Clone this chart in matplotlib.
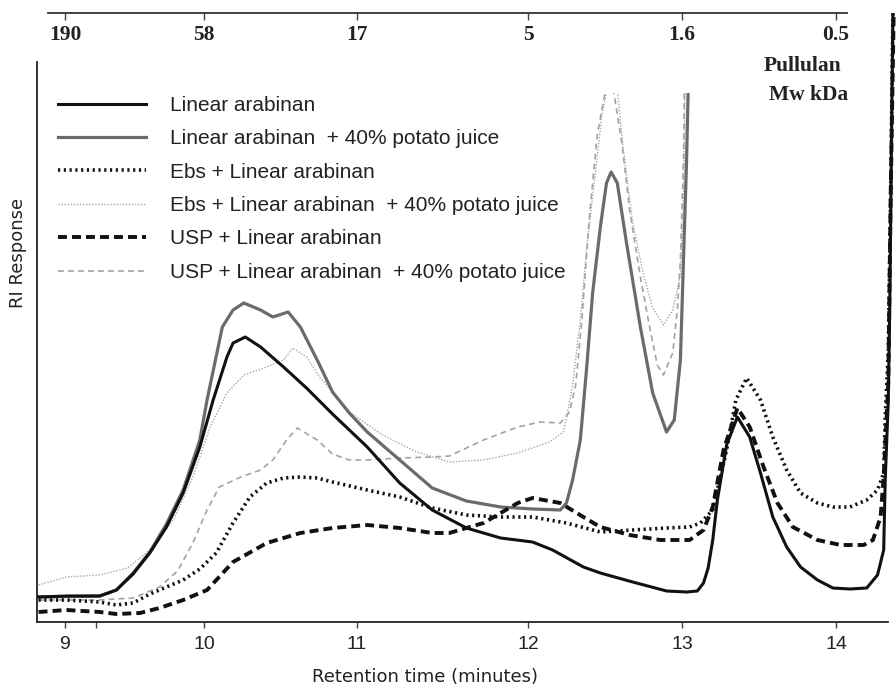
import numpy as np
import matplotlib.pyplot as plt
from matplotlib.patches import Rectangle
from matplotlib.lines import Line2D

# retention time (minutes) vs RI response (arbitrary units)
t_lin = [8.81, 9.01, 9.25, 9.37, 9.49, 9.61, 9.73, 9.85, 9.97, 10.06, 10.15, 10.19, 10.27, 10.37,
         10.52, 10.67, 10.84, 11.06, 11.25, 11.44, 11.64, 11.84, 12.03, 12.16, 12.36, 12.47, 12.68,
         12.90, 13.03, 13.10, 13.14, 13.17, 13.20, 13.23, 13.29, 13.36, 13.44, 13.51, 13.59, 13.68,
         13.77, 13.88, 13.98, 14.09, 14.20, 14.27, 14.31, 14.32, 14.34, 14.35, 14.36, 14.37]
ri_lin = [2.5, 2.6, 2.6, 3.2, 4.8, 6.9, 9.5, 12.9, 17.5, 22.2, 26.5, 27.9, 28.5, 27.5,
          25.5, 23.4, 20.8, 17.5, 13.9, 11.2, 9.4, 8.4, 8.0, 7.2, 5.5, 4.9, 4.0,
          3.1, 3.0, 3.1, 3.9, 5.4, 8.2, 12.2, 17.7, 20.5, 18.5, 14.9, 10.5, 7.5,
          5.5, 4.2, 3.4, 3.3, 3.4, 4.7, 7.2, 14.2, 22.2, 32.2, 47.2, 60.9]

t_lin_pj = [8.81, 9.25, 9.37, 9.49, 9.61, 9.73, 9.85, 9.97, 10.02, 10.12, 10.19, 10.26, 10.37, 10.45,
            10.55, 10.63, 10.74, 10.84, 10.95, 11.06, 11.25, 11.44, 11.64, 11.84, 12.03, 12.21, 12.25,
            12.29, 12.34, 12.38, 12.42, 12.47, 12.51, 12.54, 12.58, 12.64, 12.73, 12.81, 12.90, 12.95,
            12.99, 13.01, 13.03, 13.04]
ri_lin_pj = [2.5, 2.6, 3.2, 4.9, 7.0, 9.8, 13.2, 18.2, 22.2, 29.5, 31.2, 31.9, 31.2, 30.5,
             31.0, 29.5, 26.2, 23.0, 20.9, 19.0, 16.2, 13.4, 12.1, 11.5, 11.3, 11.2, 11.9,
             14.2, 18.2, 25.2, 32.9, 39.5, 43.9, 45.0, 43.9, 37.9, 29.5, 22.9, 19.0, 20.2,
             26.2, 36.2, 46.2, 52.9]

t_ebs = [8.81, 9.01, 9.25, 9.37, 9.49, 9.61, 9.73, 9.85, 9.97, 10.08, 10.19, 10.30, 10.41, 10.52,
         10.63, 10.74, 10.84, 11.06, 11.25, 11.44, 11.64, 11.84, 12.03, 12.25, 12.47, 12.68, 12.90,
         13.05, 13.12, 13.20, 13.29, 13.35, 13.42, 13.51, 13.59, 13.68, 13.77, 13.88, 13.98, 14.09,
         14.20, 14.27, 14.31, 14.32, 14.34, 14.355, 14.37]
ri_ebs = [2.2, 2.2, 2.0, 1.7, 1.9, 2.8, 3.5, 4.2, 5.3, 6.9, 9.9, 12.5, 13.9, 14.4,
          14.5, 14.4, 14.0, 13.2, 12.5, 11.4, 10.7, 10.5, 10.5, 9.9, 9.0, 9.2, 9.4,
          9.5, 9.9, 11.2, 17.2, 22.2, 24.4, 22.2, 18.5, 15.2, 12.9, 11.9, 11.5, 11.5,
          12.2, 13.2, 14.9, 20.5, 27.2, 42.2, 60.9]

t_ebs_pj = [8.81, 9.01, 9.25, 9.45, 9.61, 9.78, 9.92, 10.04, 10.15, 10.26, 10.41, 10.52, 10.58, 10.67,
            10.76, 10.86, 10.95, 11.15, 11.35, 11.54, 11.74, 11.94, 12.14, 12.23, 12.25, 12.29, 12.34,
            12.38, 12.44, 12.48, 12.51, 12.55, 12.58, 12.62, 12.68, 12.75, 12.81, 12.88, 12.94, 12.99,
            13.01, 13.02, 13.03]
ri_ebs_pj = [3.7, 4.5, 4.7, 5.4, 7.2, 10.2, 14.5, 19.5, 22.9, 24.7, 25.5, 26.2, 27.4, 26.5,
             24.4, 22.7, 21.0, 18.7, 17.0, 16.0, 16.2, 16.9, 18.0, 19.0, 20.4, 23.7, 30.2,
             37.2, 45.2, 50.7, 52.9, 54.7, 53.2, 47.2, 40.0, 34.7, 31.4, 29.7, 31.2, 34.7,
             42.2, 52.9, 56.2]

t_usp = [8.81, 9.01, 9.25, 9.37, 9.54, 9.68, 9.85, 10.02, 10.19, 10.41, 10.63, 10.84, 11.06, 11.25,
         11.44, 11.54, 11.74, 11.94, 12.03, 12.21, 12.36, 12.47, 12.66, 12.86, 13.05, 13.14, 13.20,
         13.27, 13.36, 13.44, 13.53, 13.62, 13.72, 13.88, 14.03, 14.18, 14.24, 14.29, 14.31, 14.34,
         14.355, 14.375]
ri_usp = [1.0, 1.2, 1.0, 0.8, 0.9, 1.4, 2.2, 3.2, 6.0, 7.9, 8.9, 9.4, 9.7, 9.4,
          8.9, 8.9, 9.9, 11.9, 12.4, 11.9, 10.5, 9.5, 8.7, 8.2, 8.2, 9.2, 11.5,
          17.2, 21.4, 19.5, 15.5, 11.9, 9.5, 8.2, 7.7, 7.7, 8.2, 10.5, 14.5, 23.9,
          42.2, 60.9]

t_usp_pj = [8.81, 9.25, 9.49, 9.68, 9.81, 9.92, 10.02, 10.10, 10.24, 10.37, 10.45, 10.54, 10.61, 10.74,
            10.84, 10.95, 11.06, 11.25, 11.44, 11.54, 11.74, 11.94, 12.08, 12.21, 12.27, 12.31, 12.35,
            12.40, 12.45, 12.50, 12.53, 12.56, 12.61, 12.66, 12.73, 12.79, 12.84, 12.88, 12.94, 12.97,
            12.99, 13.01, 13.015, 13.02]
ri_usp_pj = [2.2, 2.2, 2.4, 3.5, 5.1, 7.9, 11.2, 13.5, 14.5, 15.2, 16.2, 18.2, 19.4, 18.2,
             16.8, 16.2, 16.2, 16.4, 16.5, 16.6, 18.2, 19.5, 20.0, 19.9, 21.0, 23.7, 30.2,
             40.7, 48.7, 52.9, 54.2, 52.7, 47.9, 41.2, 34.5, 29.5, 25.7, 24.7, 26.9, 31.2,
             36.2, 46.2, 52.9, 56.2]

labels = ['Linear arabinan',
          'Linear arabinan  + 40% potato juice',
          'Ebs + Linear arabinan',
          'Ebs + Linear arabinan  + 40% potato juice',
          'USP + Linear arabinan',
          'USP + Linear arabinan  + 40% potato juice']

# pullulan standards on the top scale
mw_ticks = [9, 10, 11, 12, 13, 14]
mw_labels = ['190', '58', '17', '5', '1.6', '0.5']

# the printed time axis is not evenly spaced, warp it so ticks sit where they did
warp_t = [8, 9, 10, 11, 12, 13, 14, 15]
warp_u = [-74, 65, 204, 357, 528, 682, 836, 990]


def fwd(x):
    return np.interp(x, warp_t, warp_u)


def inv(u):
    return np.interp(u, warp_u, warp_t)


fig = plt.figure(figsize=(8.96, 6.89), dpi=100)
ax = fig.add_axes([37 / 896, 67 / 689, 859 / 896, 609 / 689])
ax.set_xscale('function', functions=(fwd, inv))
ax.set_xlim(8.7986, 14.39)
ax.set_ylim(0, 60.9)

styles = [
    dict(color='#111111', lw=2.2, ls='-'),
    dict(color='#6b6b6b', lw=2.3, ls='-'),
    dict(color='#111111', lw=2.6, ls=(0, (0.6, 1.0))),
    dict(color='#a6a6a6', lw=1.0, ls=(0, (1.0, 1.2))),
    dict(color='#111111', lw=2.8, ls=(0, (2.3, 1.3))),
    dict(color='#a3a3a3', lw=1.2, ls=(0, (3.5, 2.5))),
]
xs = [t_lin, t_lin_pj, t_ebs, t_ebs_pj, t_usp, t_usp_pj]
ys = [ri_lin, ri_lin_pj, ri_ebs, ri_ebs_pj, ri_usp, ri_usp_pj]

# potato juice traces run off the top of the printed panel
clip = Rectangle((8.7, -5), 6, 57.9, transform=ax.transData)
for i in [3, 5, 1, 2, 4, 0]:
    ln, = ax.plot(xs[i], ys[i], **styles[i])
    if i in (1, 3, 5):
        ln.set_clip_path(clip)

handles = [Line2D([], [], **s) for s in styles]
ax.legend(handles, labels, loc='upper left', bbox_to_anchor=(58 / 896, 1 - 96 / 689),
          bbox_transform=fig.transFigure, frameon=False, borderpad=0, borderaxespad=0,
          handlelength=4.2, handletextpad=1.2, labelspacing=0.69,
          prop={'family': 'Liberation Sans', 'size': 15}, labelcolor='#222222')

for s in ['top', 'right']:
    ax.spines[s].set_visible(False)
ax.spines['left'].set_bounds(0, 56)
ax.spines['bottom'].set_bounds(8.80, 14.34)
for s in ['left', 'bottom']:
    ax.spines[s].set_linewidth(1.3)
    ax.spines[s].set_color('#222222')
ax.set_yticks([])
ax.set_xticks(mw_ticks)
ax.set_xticklabels([str(v) for v in mw_ticks], fontfamily='Liberation Sans', fontsize=14, color='#222222')
ax.set_xticks([9.22], minor=True)
ax.tick_params(axis='x', which='both', direction='out', length=4, width=1, pad=6, color='#444444')

fig.text(425 / 896, 1 - 677 / 689, 'Retention time (minutes)', ha='center', va='center',
         fontsize=13, fontfamily='DejaVu Sans', color='#222222')
fig.text(18 / 896, 1 - 253 / 689, 'RI Response', ha='center', va='center', rotation=90,
         fontsize=13, fontfamily='DejaVu Sans', color='#222222')

# top molecular weight scale
top = fig.add_axes([48 / 896, (689 - 12.7) / 689, 799 / 896, 0.0001])
top.set_xscale('function', functions=(fwd, inv))
top.set_xlim(inv(48), inv(847))
top.patch.set_visible(False)
top.set_yticks([])
for s in ['top', 'left', 'right']:
    top.spines[s].set_visible(False)
top.spines['bottom'].set_linewidth(1.3)
top.spines['bottom'].set_color('#333333')
top.set_xticks(mw_ticks)
top.set_xticklabels(mw_labels, fontfamily='Liberation Serif', fontweight='bold', fontsize=15.5, color='#222222')
top.tick_params(axis='x', direction='out', length=5, width=1, pad=4, color='#444444')

fig.text(803 / 896, 1 - 66 / 689, 'Pullulan', ha='center', va='center',
         fontfamily='Liberation Serif', fontweight='bold', fontsize=15.5, color='#222222')
fig.text(809 / 896, 1 - 95 / 689, 'Mw kDa', ha='center', va='center',
         fontfamily='Liberation Serif', fontweight='bold', fontsize=15.5, color='#222222')

fig.savefig('out.png', dpi=100)
